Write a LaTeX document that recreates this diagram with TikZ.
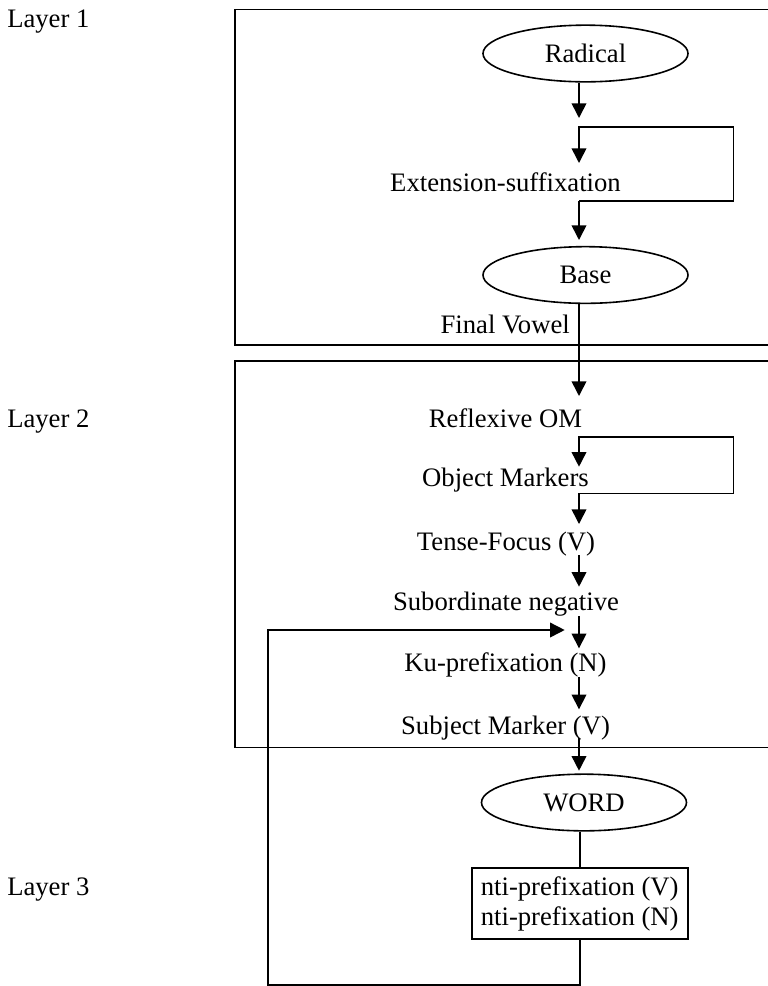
\documentclass[tikz,border=0pt]{standalone}
\usepackage{fontspec}
\setmainfont{Liberation Serif}
\usetikzlibrary{arrows.meta,shapes.geometric}
\begin{document}
\begin{tikzpicture}[x=0.75pt,y=-0.75pt,
  ln/.style={line width=1.2pt},
  arr/.style={ln,-{Triangle[length=11pt,width=11pt]}},
  txt/.style={font=\fontsize{20}{22.5}\selectfont, inner sep=0pt},
  oval/.style={ellipse,draw,line width=1.2pt,minimum width=153.75pt,minimum height=42.5pt,inner sep=0pt,font=\fontsize{20}{22.5}\selectfont},
  ntibox/.style={draw,line width=1.2pt,font=\fontsize{20}{22.5}\selectfont,align=center,minimum width=162pt,minimum height=53.25pt,inner sep=0pt}
]
\useasboundingbox (0,0) rectangle (768,986);

% layer labels
\node[txt,anchor=base west] (L1) at (7,27) {Layer 1};
\node[txt,anchor=base west] (L2) at (7,427) {Layer 2};
\node[txt,anchor=base west] (L3) at (7,895) {Layer 3};

% layer frames (open to the right edge)
\draw[ln] (768,9.3) -- (235,9.3) -- (235,345) -- (768,345);
\draw[ln] (768,360.7) -- (235,360.7) -- (235,747.5) -- (768,747.5);

% nodes
\node[oval] (rad) at (585.5,53.5) {Radical};
\node[oval] (base) at (585.5,275) {Base};
\node[oval] (word) at (584,802.5) {WORD};
\node[ntibox] (nti) at (579.7,903.5) {nti-prefixation (V)\\nti-prefixation (N)};

\node[txt,anchor=base] (ext) at (505.5,191.7) {Extension-suffixation};
\node[txt,anchor=base east] (fv) at (570,333) {Final Vowel};
\node[txt,anchor=base] (refl) at (505.5,427.3) {Reflexive OM};
\node[txt,anchor=base] (obj) at (505.5,486.7) {Object Markers};
\node[txt,anchor=base] (tense) at (506,550) {Tense-Focus (V)};
\node[txt,anchor=base] (sub) at (506,610) {Subordinate negative};
\node[txt,anchor=base] (ku) at (505.5,671.7) {Ku-prefixation (N)};
\node[txt,anchor=base] (subj) at (505.5,734) {Subject Marker (V)};

% coordinates on the main column
\coordinate (t1) at (579,118);
\coordinate (lp1top) at (579,127);
\coordinate (lp1tip) at (579,163);
\coordinate (lp1bot) at (579,201);
\coordinate (t2) at (579,240);
\coordinate (t3) at (579,396);
\coordinate (lp2top) at (579,436.7);
\coordinate (lp2tip) at (579,466.7);
\coordinate (lp2bot) at (579,493.3);
\coordinate (t4) at (579,524);
\coordinate (s5) at (579,555);
\coordinate (t5) at (579,586.7);
\coordinate (s6) at (579,616);
\coordinate (t6) at (579,648.3);
\coordinate (s7) at (579,677.3);
\coordinate (t7) at (579,709.3);
\coordinate (s8) at (579,738);
\coordinate (t8) at (579,770.7);
\coordinate (fbtip) at (564.7,630);
\coordinate (fbcorner) at (268,985);

% connectors
\draw[arr] (rad.south -| t1) -- (t1);
\draw[arr] (lp1bot) -- ++(154.4,0) |- (lp1top) -- (lp1tip);
\draw[arr] (lp1bot) -- (t2);
\draw[arr] (base.south -| t3) -- (t3);
\draw[arr] (lp2bot) -- ++(154.4,0) |- (lp2top) -- (lp2tip);
\draw[arr] (lp2bot) -- (t4);
\draw[arr] (s5) -- (t5);
\draw[arr] (s6) -- (t6);
\draw[arr] (s7) -- (t7);
\draw[arr] (s8) -- (t8);
\draw[ln] (word.south -| nti.north) -- (nti.north);
\draw[arr] (nti.south) |- (fbcorner) |- (fbtip);
\end{tikzpicture}
\end{document}
